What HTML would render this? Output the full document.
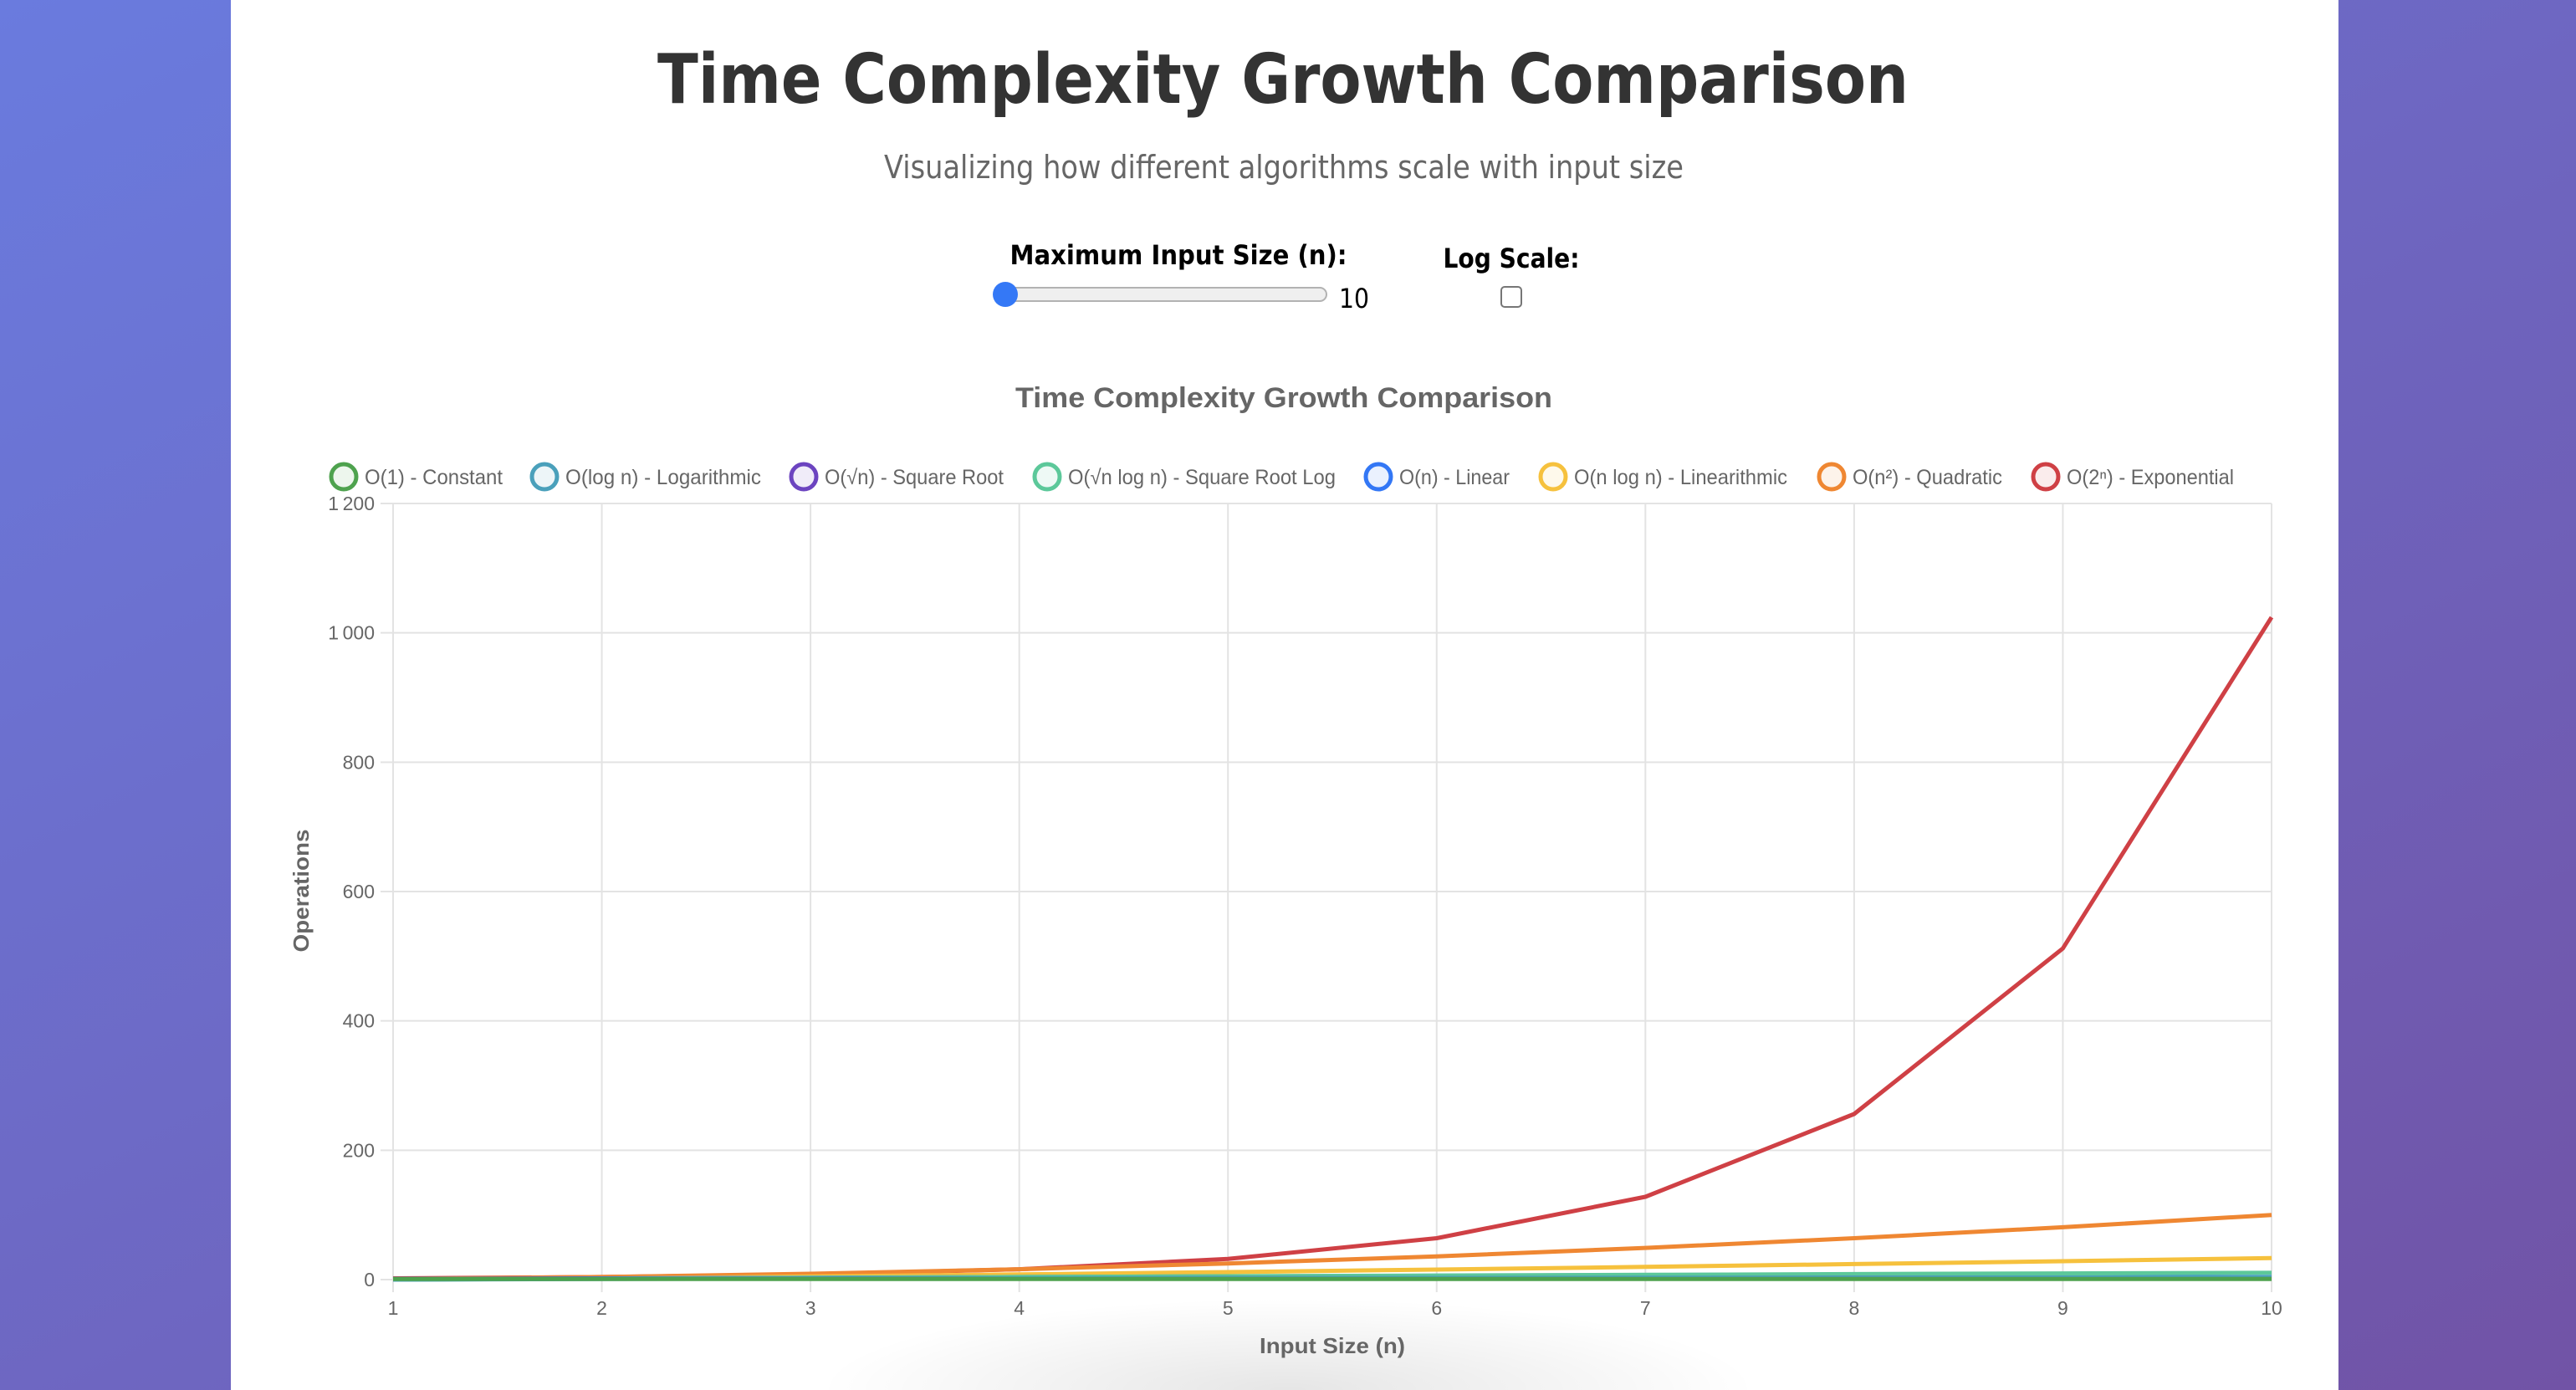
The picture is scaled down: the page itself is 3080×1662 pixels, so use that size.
<!DOCTYPE html>
<html><head><meta charset="utf-8"><style>
html,body{margin:0;padding:0;width:3080px;height:1662px;overflow:hidden}
svg{display:block;overflow:hidden}
</style></head><body>
<svg id="chart" width="3080" height="1662" viewBox="0 0 3080 1662" xmlns="http://www.w3.org/2000/svg">
<defs>
<linearGradient id="bg" x1="0" y1="0" x2="1" y2="1"><stop offset="0" stop-color="#6a7bde"/><stop offset="1" stop-color="#7153a6"/></linearGradient>
<radialGradient id="sh" cx="0.5" cy="1" r="0.5" gradientTransform="translate(0.5 1) scale(1 1.8) translate(-0.5 -1)"><stop offset="0" stop-color="#000" stop-opacity="0.10"/><stop offset="0.7" stop-color="#000" stop-opacity="0.03"/><stop offset="1" stop-color="#000" stop-opacity="0"/></radialGradient>
</defs>
<rect x="0" y="0" width="3080" height="1662" fill="url(#bg)"/>
<rect x="276" y="0" width="2520" height="1662" fill="#ffffff"/>
<rect x="980" y="1540" width="1120" height="122" fill="url(#sh)"/>
<text x="1534" y="123" text-anchor="middle" font-family="DejaVu Sans, sans-serif" font-weight="bold" font-size="82" fill="#333" textLength="1496" lengthAdjust="spacingAndGlyphs">Time Complexity Growth Comparison</text>
<text x="1535" y="213" text-anchor="middle" font-family="DejaVu Sans, sans-serif" font-size="38" fill="#666" textLength="956" lengthAdjust="spacingAndGlyphs">Visualizing how different algorithms scale with input size</text>
<text x="1409" y="316" text-anchor="middle" font-family="DejaVu Sans, sans-serif" font-weight="bold" font-size="32" fill="#000" textLength="403" lengthAdjust="spacingAndGlyphs">Maximum Input Size (n):</text>
<g>
<rect x="1190" y="344" width="396" height="16" rx="8" fill="#efefef" stroke="#b2b2b2" stroke-width="2"/>
<circle cx="1202" cy="352" r="15" fill="#3478f6"/>
</g>
<text x="1601" y="368" font-family="DejaVu Sans, sans-serif" font-size="32" fill="#000" textLength="36" lengthAdjust="spacingAndGlyphs">10</text>
<text x="1807" y="320" text-anchor="middle" font-family="DejaVu Sans, sans-serif" font-weight="bold" font-size="32" fill="#000" textLength="163" lengthAdjust="spacingAndGlyphs">Log Scale:</text>
<rect x="1795" y="343" width="24" height="24" rx="4" fill="#fff" stroke="#767676" stroke-width="2"/>
<text x="1535" y="487" text-anchor="middle" font-family="Liberation Sans, sans-serif" font-weight="bold" font-size="34" fill="#666" textLength="642" lengthAdjust="spacingAndGlyphs">Time Complexity Growth Comparison</text>
<g id="legend"></g>
<g id="grid"></g>
<g id="series"></g>
<text x="1593" y="1618" text-anchor="middle" font-family="Liberation Sans, sans-serif" font-weight="bold" font-size="26" fill="#666" textLength="174" lengthAdjust="spacingAndGlyphs">Input Size (n)</text>
<text transform="translate(369,1065) rotate(-90)" text-anchor="middle" font-family="Liberation Sans, sans-serif" font-weight="bold" font-size="26" fill="#666" textLength="147" lengthAdjust="spacingAndGlyphs">Operations</text>
</svg>
<script>
const NS='http://www.w3.org/2000/svg';
const categories=[1,2,3,4,5,6,7,8,9,10];
const yTicks=[0,200,400,600,800,1000,1200];
const yTickLabels=['0','200','400','600','800','1\u2009000','1\u2009200'];
const seriesNames=['O(1) - Constant','O(log n) - Logarithmic','O(\u221An) - Square Root','O(\u221An log n) - Square Root Log','O(n) - Linear','O(n log n) - Linearithmic','O(n\u00B2) - Quadratic','O(2\u207F) - Exponential'];
const seriesColors=['#4ea24e','#4aa0bb','#6c44c0','#5cc89a','#3377f5','#f6c13d','#ef8732','#cf4045'];
const constantVals=[1,1,1,1,1,1,1,1,1,1];
const logVals=[0,1,1.58,2,2.32,2.58,2.81,3,3.17,3.32];
const sqrtVals=[1,1.41,1.73,2,2.24,2.45,2.65,2.83,3,3.16];
const sqrtLogVals=[0,1.41,2.75,4,5.19,6.33,7.43,8.49,9.51,10.5];
const linearVals=[1,2,3,4,5,6,7,8,9,10];
const nlognVals=[0,2,4.75,8,11.6,15.5,19.7,24,28.5,33.2];
const quadVals=[1,4,9,16,25,36,49,64,81,100];
const expVals=[2,4,8,16,32,64,128,256,512,1024];
const allSeries=[constantVals,logVals,sqrtVals,sqrtLogVals,linearVals,nlognVals,quadVals,expVals];
const legendLabelStart=[436,676,986,1277,1673,1882,2215,2471];
const legendLabelWidth=[165,234,214,320,132,255,179,200];

const X0=470,X1=2716,Y0=1530,Y1=602;
const xs=v=>X0+(v-categories[0])/(categories[categories.length-1]-categories[0])*(X1-X0);
const ys=v=>Y0-(v/1200)*(Y0-Y1);
function mk(tag,attrs,parent){const e=document.createElementNS(NS,tag);for(const k in attrs)e.setAttribute(k,attrs[k]);parent.appendChild(e);return e;}
const grid=document.getElementById('grid');
yTicks.forEach((t,i)=>{
  const l=mk('line',{x1:455,x2:X1,y1:ys(t),y2:ys(t),stroke:'#e3e3e3','stroke-width':2},grid);
  
  
  const tx=mk('text',{x:448,y:ys(t)+8,'text-anchor':'end','font-family':'Liberation Sans, sans-serif','font-size':23,fill:'#666'},grid);
  tx.textContent=yTickLabels[i];
  
  
});
categories.forEach(c=>{
  const l=mk('line',{x1:xs(c),x2:xs(c),y1:Y1,y2:Y0+15,stroke:'#e3e3e3','stroke-width':2},grid);
  
  
  const tx=mk('text',{x:xs(c),y:1572,'text-anchor':'middle','font-family':'Liberation Sans, sans-serif','font-size':23,fill:'#666'},grid);
  tx.textContent=String(c);
  
  
});
const sg=document.getElementById('series');
for(let s=allSeries.length-1;s>=0;s--){
  const d=allSeries[s].map((v,i)=>(i?'L':'M')+xs(categories[i]).toFixed(1)+','+ys(v).toFixed(1)).join(' ');
  const p=mk('path',{d:d,fill:'none',stroke:seriesColors[s],'stroke-width':5,'stroke-linejoin':'round'},sg);
  
  
}
const lg=document.getElementById('legend');
seriesNames.forEach((n,i)=>{
  const g=mk('g',{},lg);
  
  
  mk('circle',{cx:legendLabelStart[i]-25,cy:570,r:15,fill:seriesColors[i],'fill-opacity':0.1,stroke:seriesColors[i],'stroke-width':5},g);
  const t=mk('text',{x:legendLabelStart[i],y:579,'font-family':'Liberation Sans, sans-serif','font-size':25,fill:'#666',textLength:legendLabelWidth[i],lengthAdjust:'spacingAndGlyphs'},g);
  t.textContent=n;
});
</script>
</body></html>
